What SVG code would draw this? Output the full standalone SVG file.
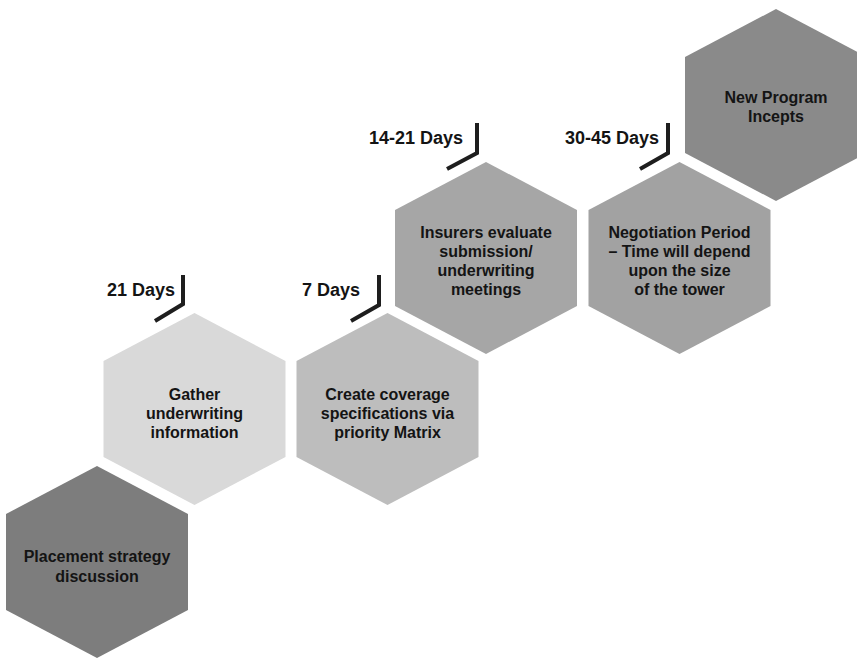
<svg xmlns="http://www.w3.org/2000/svg" width="857" height="660" viewBox="0 0 857 660">
  <defs>
    <style>
      .hex { stroke: none; }
      .lbl { font-family: "Liberation Sans", Arial, sans-serif; font-weight: 700; font-size: 16px; fill: #141414; text-anchor: middle; }
      .days { font-family: "Liberation Sans", Arial, sans-serif; font-weight: 700; font-size: 18px; fill: #141414; text-anchor: end; }
      .tick { fill: none; stroke: #1e1e1e; stroke-width: 4; stroke-linejoin: miter; }
    </style>
    <!-- pointy-top hexagon centred on the origin -->
    <polygon id="hexShape" points="0,-96 91,-48 91,48 0,96 -91,48 -91,-48"/>
  </defs>

  <rect width="857" height="660" fill="#ffffff"/>

  <g id="node-placement">
    <use href="#hexShape" x="97" y="562" fill="#7d7d7d" class="hex"/>
    <text class="lbl" x="97" y="562">Placement strategy</text>
    <text class="lbl" x="97" y="582">discussion</text>
  </g>

  <g id="node-gather">
    <use href="#hexShape" x="194.5" y="409" fill="#d9d9d9" class="hex"/>
    <text class="lbl" x="194.5" y="400">Gather</text>
    <text class="lbl" x="194.5" y="419">underwriting</text>
    <text class="lbl" x="194.5" y="438">information</text>
  </g>

  <g id="node-create">
    <use href="#hexShape" x="387.5" y="409" fill="#bdbdbd" class="hex"/>
    <text class="lbl" x="387.5" y="400">Create coverage</text>
    <text class="lbl" x="387.5" y="419">specifications via</text>
    <text class="lbl" x="387.5" y="438">priority Matrix</text>
  </g>

  <g id="node-insurers">
    <use href="#hexShape" x="486" y="258" fill="#a6a6a6" class="hex"/>
    <text class="lbl" x="486" y="238">Insurers evaluate</text>
    <text class="lbl" x="486" y="257">submission/</text>
    <text class="lbl" x="486" y="276">underwriting</text>
    <text class="lbl" x="486" y="295">meetings</text>
  </g>

  <g id="node-negotiation">
    <use href="#hexShape" x="679.5" y="258" fill="#a2a2a2" class="hex"/>
    <text class="lbl" x="679.5" y="238">Negotiation Period</text>
    <text class="lbl" x="679.5" y="257">– Time will depend</text>
    <text class="lbl" x="679.5" y="276">upon the size</text>
    <text class="lbl" x="679.5" y="295">of the tower</text>
  </g>

  <g id="node-incepts">
    <use href="#hexShape" x="776" y="105" fill="#8a8a8a" class="hex"/>
    <text class="lbl" x="776" y="103">New Program</text>
    <text class="lbl" x="776" y="122">Incepts</text>
  </g>

  <!-- duration markers between steps -->
  <g id="connectors">
    <polyline class="tick" points="183,275 183,304 155,321"/>
    <polyline class="tick" points="379,275 379,305 351,321"/>
    <polyline class="tick" points="477,123 477,153 447,169"/>
    <polyline class="tick" points="668,123 668,153 640,169"/>
    <text class="days" x="175" y="296">21 Days</text>
    <text class="days" x="360" y="296">7 Days</text>
    <text class="days" x="463" y="144">14-21 Days</text>
    <text class="days" x="659" y="144">30-45 Days</text>
  </g>
</svg>
